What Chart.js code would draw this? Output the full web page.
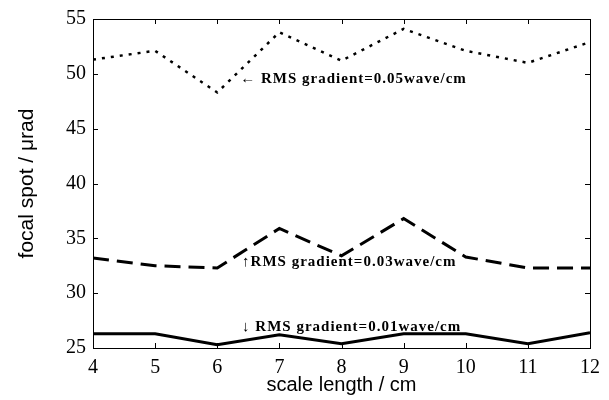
<!DOCTYPE html>
<html>
<head>
<meta charset="utf-8">
<script src="https://cdn.jsdelivr.net/npm/chart.js@4"></script>
<style>
  html, body { margin: 0; padding: 0; background: #fff; }
  #wrap { width: 609px; height: 400px; }
</style>
</head>
<body>
<div id="wrap"><canvas id="focalChart" width="609" height="400"></canvas></div>
<script>
const scaleLength = [4, 5, 6, 7, 8, 9, 10, 11, 12];
const grad005 = [51.3, 52.1, 48.3, 53.8, 51.2, 54.1, 52.1, 51.0, 52.9];
const grad003 = [33.2, 32.5, 32.3, 35.9, 33.4, 36.8, 33.3, 32.3, 32.3];
const grad001 = [26.3, 26.3, 25.3, 26.2, 25.4, 26.3, 26.3, 25.4, 26.4];
const xTicks = [4, 5, 6, 7, 8, 9, 10, 11, 12];
const yTicks = [25, 30, 35, 40, 45, 50, 55];

// label text, anchor (x, y in data units)
const notes = [
  { text: "\u2190 RMS gradient=0.05wave/cm", x: 6.37, y: 49.5 },
  { text: "\u2191RMS gradient=0.03wave/cm", x: 6.4, y: 32.8 },
  { text: "\u2193 RMS gradient=0.01wave/cm", x: 6.4, y: 26.9 }
];

function pts(ys){
  return scaleLength.map((x, i) => ({ x: x, y: ys[i] }));
}

// box + inward ticks, like the old matlab plots
const boxPlugin = {
  id: "box",
  afterDraw(chart){
    const c = chart.ctx, a = chart.chartArea;
    const xs = chart.scales.x, ys = chart.scales.y;
    c.save();
    c.strokeStyle = "#000";
    c.lineWidth = 1;
    c.strokeRect(a.left + 0.5, a.top + 0.5, a.right - a.left, a.bottom - a.top);
    c.beginPath();
    xTicks.forEach(v => {
      const px = Math.round(xs.getPixelForValue(v)) + 0.5;
      c.moveTo(px, a.bottom); c.lineTo(px, a.bottom - 5);
      c.moveTo(px, a.top); c.lineTo(px, a.top + 5);
    });
    yTicks.forEach(v => {
      const py = Math.round(ys.getPixelForValue(v)) + 0.5;
      c.moveTo(a.left, py); c.lineTo(a.left + 5, py);
      c.moveTo(a.right, py); c.lineTo(a.right - 5, py);
    });
    c.stroke();

    c.fillStyle = "#000";
    c.font = "bold 15px 'Liberation Serif', serif";
    c.letterSpacing = "1px";
    c.textBaseline = "middle";
    notes.forEach(n => {
      c.fillText(n.text, xs.getPixelForValue(n.x), ys.getPixelForValue(n.y));
    });
    c.restore();
  }
};

new Chart(document.getElementById("focalChart"), {
  type: "line",
  data: {
    datasets: [
      { label: "0.05", data: pts(grad005), borderColor: "#000", borderWidth: 2.5, borderDash: [3, 6], pointRadius: 0, tension: 0 },
      { label: "0.03", data: pts(grad003), borderColor: "#000", borderWidth: 3, borderDash: [16, 8], pointRadius: 0, tension: 0 },
      { label: "0.01", data: pts(grad001), borderColor: "#000", borderWidth: 3, pointRadius: 0, tension: 0 }
    ]
  },
  options: {
    responsive: false,
    animation: false,
    layout: { padding: { top: 17, right: 19, left: 0, bottom: 0 } },
    plugins: { legend: { display: false }, tooltip: { enabled: false } },
    scales: {
      x: {
        type: "linear", min: 4, max: 12,
        afterBuildTicks: s => { s.ticks = xTicks.map(v => ({ value: v })); },
        afterFit: s => { s.height = 52; },
        grid: { display: false, drawTicks: false },
        border: { display: false },
        ticks: { color: "#000", padding: 8, maxRotation: 0, font: { family: "'Liberation Serif', serif", size: 20 } },
        title: { display: true, text: "scale length / cm", color: "#000", padding: { top: 0, bottom: 3 }, font: { family: "'Liberation Sans', Arial, sans-serif", size: 20 } }
      },
      y: {
        min: 25, max: 55,
        afterBuildTicks: s => { s.ticks = yTicks.map(v => ({ value: v })); },
        afterFit: s => { s.width = 93; },
        grid: { display: false, drawTicks: false },
        border: { display: false },
        ticks: { color: "#000", padding: 7, font: { family: "'Liberation Serif', serif", size: 20 } },
        title: { display: true, text: "focal spot / \u03bcrad", color: "#000", padding: { top: 15, bottom: 0 }, font: { family: "'Liberation Sans', Arial, sans-serif", size: 21 } }
      }
    }
  },
  plugins: [boxPlugin]
});
</script>
</body>
</html>
